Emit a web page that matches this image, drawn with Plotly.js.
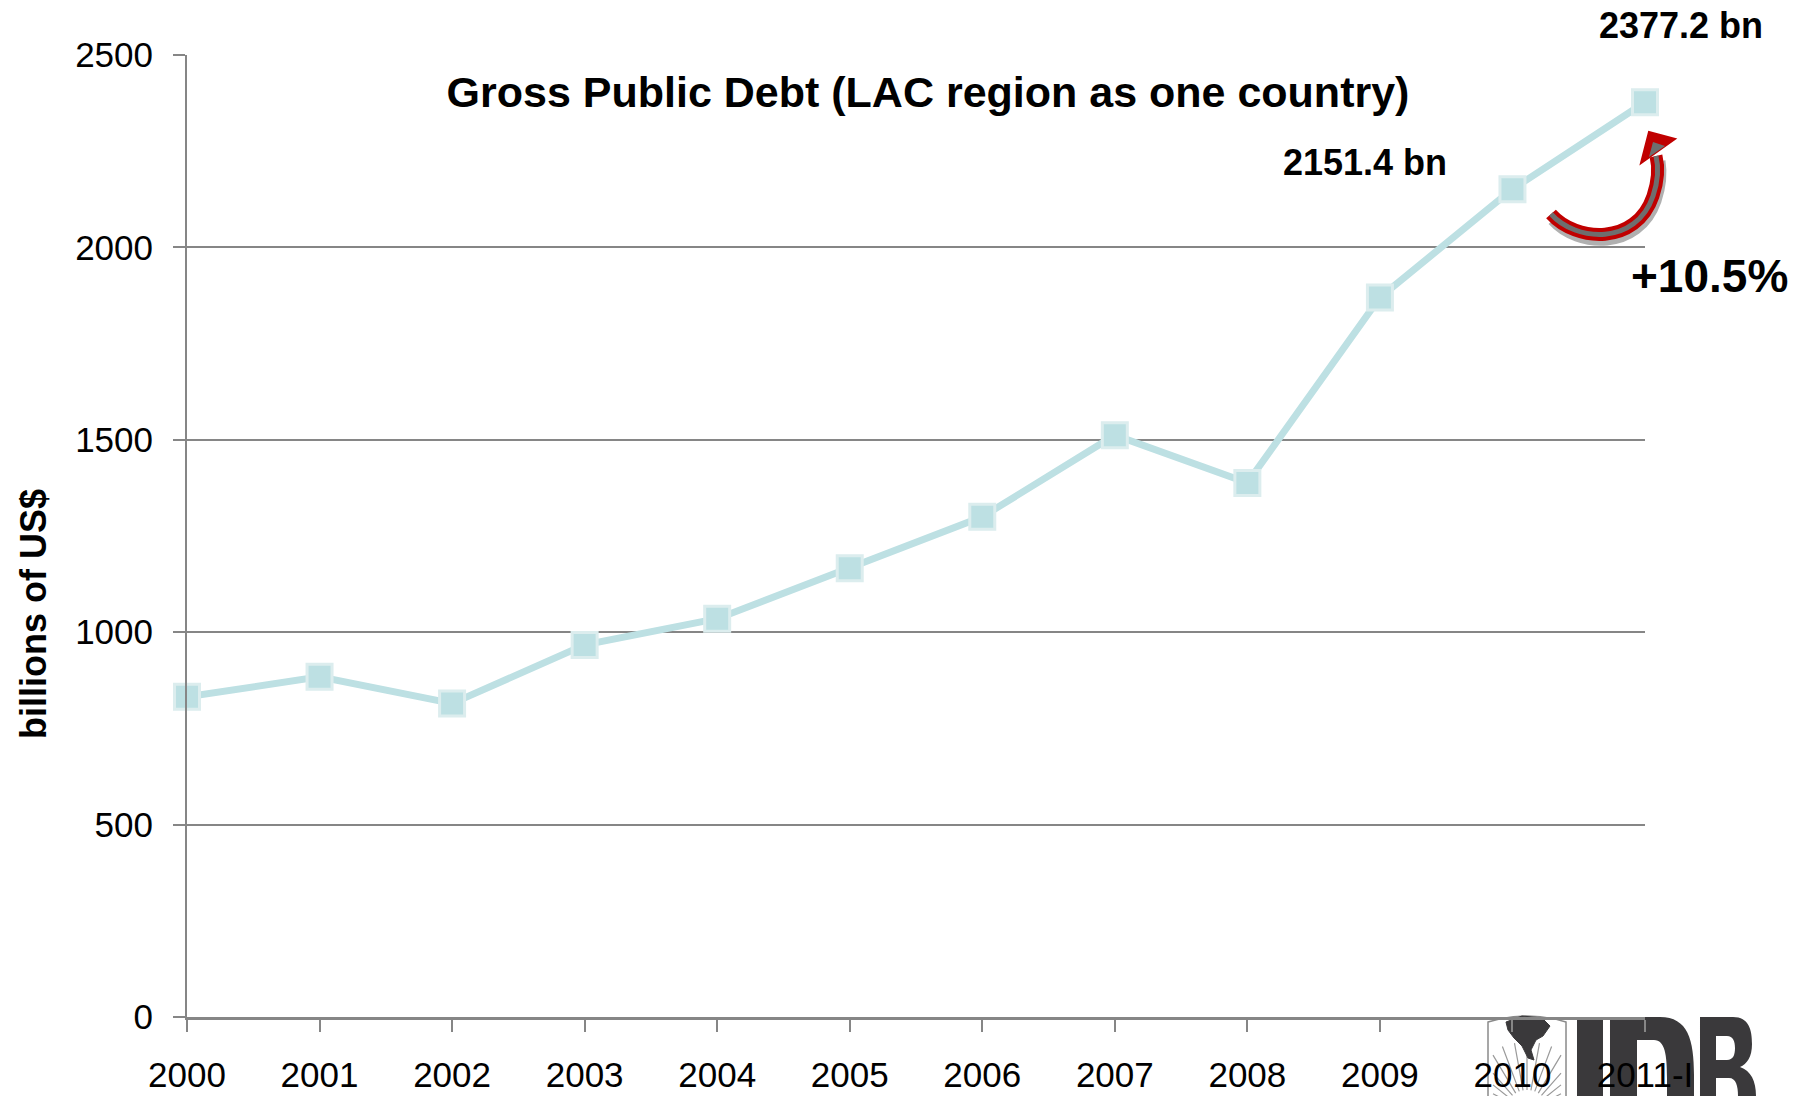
<!DOCTYPE html>
<html>
<head>
<meta charset="utf-8">
<script src="https://cdn.plot.ly/plotly-3.0.1.min.js"></script>
<style>
  html, body { margin: 0; padding: 0; background: #ffffff; }
  #chart { width: 1796px; height: 1096px; }
</style>
</head>
<body>
<div id="chart"></div>
<script>
// ---- Data ----
const categories = ["2000", "2001", "2002", "2003", "2004", "2005", "2006", "2007", "2008", "2009", "2010", "2011-I"];
const debtValues = [832, 884, 815, 967, 1035, 1166, 1300, 1512, 1388, 1870, 2151.4, 2377.2];
const yTickValues = [0, 500, 1000, 1500, 2000, 2500];
const yTickLabels = ["0", "500", "1000", "1500", "2000", "2500"];
const chartTitle = "Gross Public Debt (LAC region as one country)";
const yAxisTitle = "billions of US$";
const labelLast = "2377.2 bn";
const labelPrev = "2151.4 bn";
const labelGrowth = "+10.5%";

// ---- Layout geometry (pixels) ----
const W = 1796, H = 1096;
const PL = 187, PR = 1645, PT = 55, PB = 1017;
function pxx(x) { return (x - PL) / (PR - PL); }
function pxy(y) { return (PB - y) / (PB - PT); }
function pt(x, y) { return pxx(x).toFixed(5) + ',' + pxy(y).toFixed(5); }

const FONT = 'Liberation Sans, Arial, Helvetica, sans-serif';
const GRID = '#868686';

const trace = {
  x: categories,
  y: debtValues,
  type: 'scatter',
  mode: 'lines+markers',
  cliponaxis: false,
  line: { color: '#bde0e3', width: 7 },
  marker: { symbol: 'square', size: 25, color: '#bde0e3', line: { color: '#dcedee', width: 3 } },
  hoverinfo: 'x+y'
};

// ---- Decorative shapes: curved arrow and IDB logo ----
const arrowBody = 'M' + pt(1551, 214) + ' C' + pt(1576, 242) + ' ' + pt(1636, 246) + ' ' + pt(1653, 196) +
                  ' C' + pt(1658, 181) + ' ' + pt(1659, 168) + ' ' + pt(1656, 156);
const arrowShadow = 'M' + pt(1552, 221) + ' C' + pt(1577, 249) + ' ' + pt(1639, 253) + ' ' + pt(1657, 201) +
                  ' C' + pt(1662, 186) + ' ' + pt(1663, 173) + ' ' + pt(1661, 161);
const arrowHead = 'M' + pt(1641, 163) + ' L' + pt(1649, 132) + ' L' + pt(1675, 139) + ' Z';
const arrowHeadInner = 'M' + pt(1649, 157) + ' L' + pt(1653, 142) + ' L' + pt(1665, 146) + ' Z';

const logoI = 'M' + pt(1577, 1017) + ' L' + pt(1603, 1017) + ' L' + pt(1603, 1112) + ' L' + pt(1577, 1112) + ' Z';
const logoD = 'M' + pt(1610, 1017) + ' L' + pt(1660, 1017) + ' C' + pt(1688, 1017) + ' ' + pt(1694, 1040) + ' ' + pt(1694, 1075) +
              ' L' + pt(1694, 1112) + ' L' + pt(1610, 1112) + ' Z' +
              ' M' + pt(1637, 1040) + ' L' + pt(1654, 1040) + ' C' + pt(1665, 1040) + ' ' + pt(1667, 1055) + ' ' + pt(1667, 1078) +
              ' L' + pt(1667, 1112) + ' L' + pt(1637, 1112) + ' Z';
const logoB = 'M' + pt(1700, 1017) + ' L' + pt(1733, 1017) + ' C' + pt(1749, 1017) + ' ' + pt(1752, 1030) + ' ' + pt(1752, 1044) +
              ' C' + pt(1752, 1057) + ' ' + pt(1747, 1064) + ' ' + pt(1740, 1067) +
              ' C' + pt(1751, 1071) + ' ' + pt(1756, 1081) + ' ' + pt(1756, 1096) + ' L' + pt(1756, 1112) + ' L' + pt(1700, 1112) + ' Z' +
              ' M' + pt(1716, 1036) + ' L' + pt(1727, 1036) + ' C' + pt(1733, 1036) + ' ' + pt(1735, 1041) + ' ' + pt(1735, 1048) +
              ' C' + pt(1735, 1055) + ' ' + pt(1733, 1060) + ' ' + pt(1727, 1060) + ' L' + pt(1716, 1060) + ' Z' +
              ' M' + pt(1716, 1078) + ' L' + pt(1729, 1078) + ' C' + pt(1736, 1078) + ' ' + pt(1738, 1086) + ' ' + pt(1738, 1096) +
              ' L' + pt(1738, 1112) + ' L' + pt(1716, 1112) + ' Z';
const shield = 'M' + pt(1488, 1022) + ' Q' + pt(1527, 1010) + ' ' + pt(1566, 1022) + ' L' + pt(1566, 1112) + ' L' + pt(1488, 1112) + ' Z';
let rays = '';
for (let i = 0; i <= 14; i++) {
  const a = Math.PI * (0.1 + 0.8 * i / 14);
  const c = Math.cos(a), s = Math.sin(a);
  const x1 = 1527 - c * 22, y1 = 1112 - s * 22;
  let len = 70;
  if (Math.abs(c) > 1e-6) len = Math.min(len, 34 / Math.abs(c));
  const x2 = 1527 - c * len, y2 = 1112 - s * len;
  rays += ' M' + pt(x1, y1) + ' L' + pt(x2, y2);
}
const america = 'M' + pt(1506, 1022) + ' L' + pt(1522, 1016) + ' L' + pt(1542, 1018) + ' L' + pt(1550, 1026) +
                ' L' + pt(1543, 1036) + ' L' + pt(1536, 1040) + ' L' + pt(1531, 1050) + ' L' + pt(1534, 1060) +
                ' L' + pt(1528, 1058) + ' L' + pt(1522, 1046) + ' L' + pt(1514, 1038) + ' L' + pt(1508, 1030) + ' Z';

const shapes = [
  { type: 'path', xref: 'paper', yref: 'paper', layer: 'below', path: shield, fillcolor: '#ffffff', line: { color: '#8a8a8a', width: 1.5 } },
  { type: 'path', xref: 'paper', yref: 'paper', layer: 'below', path: rays, line: { color: '#9a9a9a', width: 1.2 } },
  { type: 'path', xref: 'paper', yref: 'paper', layer: 'below', path: america, fillcolor: '#3a393b', line: { color: '#3a393b', width: 1 } },
  { type: 'path', xref: 'paper', yref: 'paper', layer: 'below', path: logoI, fillcolor: '#3a393b', line: { width: 0 } },
  { type: 'path', xref: 'paper', yref: 'paper', layer: 'below', path: logoD, fillcolor: '#3a393b', fillrule: 'evenodd', line: { width: 0 } },
  { type: 'path', xref: 'paper', yref: 'paper', layer: 'below', path: logoB, fillcolor: '#3a393b', fillrule: 'evenodd', line: { width: 0 } },
  { type: 'path', xref: 'paper', yref: 'paper', layer: 'above', path: arrowShadow, line: { color: '#b0b0b0', width: 9 } },
  { type: 'path', xref: 'paper', yref: 'paper', layer: 'above', path: arrowBody, line: { color: '#c00000', width: 13 } },
  { type: 'path', xref: 'paper', yref: 'paper', layer: 'above', path: arrowBody, line: { color: '#6e6e6e', width: 5 } },
  { type: 'path', xref: 'paper', yref: 'paper', layer: 'above', path: arrowHead, fillcolor: '#c00000', line: { color: '#c00000', width: 2 } },
  { type: 'path', xref: 'paper', yref: 'paper', layer: 'above', path: arrowHeadInner, fillcolor: '#6e6e6e', line: { width: 0 } }
];

const annotations = [
  { text: '<b>' + yAxisTitle + '</b>', xref: 'paper', yref: 'paper', x: pxx(33), y: pxy(614), xanchor: 'center', yanchor: 'middle',
    textangle: -90, showarrow: false, font: { family: FONT, size: 36, color: '#000000' } },
  { text: '<b>' + labelLast + '</b>', xref: 'paper', yref: 'paper', x: pxx(1681), y: pxy(26), xanchor: 'center', yanchor: 'middle',
    showarrow: false, font: { family: FONT, size: 36, color: '#000000' } },
  { text: '<b>' + labelPrev + '</b>', xref: 'paper', yref: 'paper', x: pxx(1365), y: pxy(162), xanchor: 'center', yanchor: 'middle',
    showarrow: false, font: { family: FONT, size: 36, color: '#000000' } },
  { text: '<b>' + labelGrowth + '</b>', xref: 'paper', yref: 'paper', x: pxx(1709), y: pxy(276), xanchor: 'center', yanchor: 'middle',
    showarrow: false, font: { family: FONT, size: 46, color: '#000000' } }
];

const layout = {
  width: W, height: H,
  margin: { l: PL, r: W - PR, t: PT, b: H - PB, pad: 0 },
  paper_bgcolor: '#ffffff', plot_bgcolor: '#ffffff',
  showlegend: false,
  font: { family: FONT, color: '#000000' },
  title: { text: '<b>' + chartTitle + '</b>', font: { family: FONT, size: 43, color: '#000000' },
           xref: 'container', yref: 'container', x: 928 / W, xanchor: 'center', y: 1 - 92 / H, yanchor: 'middle' },
  xaxis: {
    type: 'category', range: [0, categories.length - 1], autorange: false,
    showgrid: false, zeroline: false,
    showline: true, linecolor: GRID, linewidth: 3,
    ticks: 'outside', ticklen: 12, tickwidth: 2, tickcolor: GRID,
    tickfont: { family: FONT, size: 35, color: '#000000' },
    ticklabelstandoff: 13
  },
  yaxis: {
    range: [0, 2500], autorange: false,
    tickvals: yTickValues, ticktext: yTickLabels,
    showgrid: true, gridcolor: GRID, gridwidth: 2,
    zeroline: false,
    showline: true, linecolor: GRID, linewidth: 2,
    ticks: 'outside', ticklen: 12, tickwidth: 2, tickcolor: GRID,
    tickfont: { family: FONT, size: 35, color: '#000000' },
    ticklabelstandoff: 13
  },
  shapes: shapes,
  annotations: annotations
};

Plotly.newPlot('chart', [trace], layout, { displayModeBar: false, staticPlot: true });
</script>
</body>
</html>
